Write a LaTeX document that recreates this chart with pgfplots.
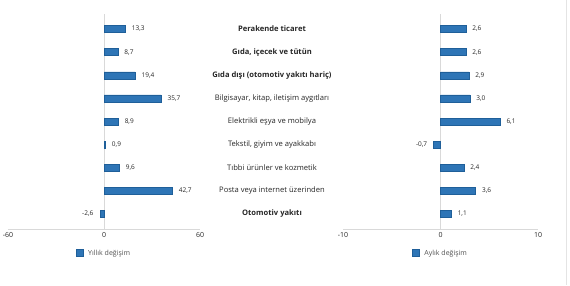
\documentclass[border=0pt]{standalone}
\usepackage{pgfplots}
\pgfplotsset{compat=1.18}
\usepackage{fontspec}
\setmainfont{Open Sans}
\definecolor{barblue}{HTML}{2E75B6}
\definecolor{baredge}{HTML}{1F5F99}
\definecolor{axgray}{HTML}{D9D9D9}
\definecolor{txt}{HTML}{262626}
\pgfplotsset{
  common/.style={
    scale only axis, anchor=south west,
    ymin=-0.65, ymax=8.65, y dir=reverse,
    axis lines*=left,
    y axis line style={draw=none},
    x axis line style={draw=axgray, line width=0.8pt},
    major tick length=0pt,
    xbar, bar width=7pt, bar shift=0pt,
    tick label style={font=\fontsize{7}{8}\selectfont, text=txt},
    xticklabel style={/pgf/number format/.cd, fixed, fixed zerofill=false, precision=0},
    /pgf/number format/.cd, use comma, fixed, fixed zerofill, precision=1, assume math mode=true,
    /pgfplots/.cd,
    nodes near coords,
    every node near coord/.append style={font=\fontsize{6.5}{7}\selectfont, text=txt},
    legend style={draw=none, fill=none, font=\fontsize{7}{8}\selectfont, text=txt!80, at={(0.5,0)}, anchor=north, yshift=-17pt, legend cell align=left},
    legend image code/.code={\fill[barblue, draw=baredge] (0pt,-3pt) rectangle (7pt,4pt);},
    clip=false,
  },
  pos/.style={fill=barblue, draw=baredge, every node near coord/.append style={anchor=west, xshift=3pt}},
  neg/.style={fill=barblue, draw=baredge, every node near coord/.append style={anchor=east, xshift=-3pt}},
}
\begin{document}
\begin{tikzpicture}[x=1pt,y=1pt]
\path[use as bounding box] (0,0) rectangle (570,285);
\draw[axgray!70, line width=0.6pt] (566,0) -- (566,285);
% Left axis
\begin{axis}[common, at={(8pt,56pt)}, width=192pt, height=215pt,
  xmin=-60, xmax=60, xtick={-60,0,60}, ytick=\empty]
\draw[axgray, line width=0.6pt] (axis cs:0,-0.65) -- (axis cs:0,8.65);
\addplot[pos] coordinates {(13.3,0) (8.7,1) (19.4,2) (35.7,3) (8.9,4) (0.9,5) (9.6,6) (42.7,7)};
\addlegendentry{\hspace{3pt}Yıllık değişim}
\addplot[neg, forget plot] coordinates {(-2.6,8)};
\end{axis}
% Right axis
\begin{axis}[common, at={(343pt,56pt)}, width=195pt, height=215pt,
  xmin=-10, xmax=10, xtick={-10,0,10},
  ytick={0,...,8},
  yticklabels={\textbf{Perakende ticaret},\textbf{Gıda, içecek ve tütün},\textbf{Gıda dışı (otomotiv yakıtı hariç)},Bilgisayar{,} kitap{,} iletişim aygıtları,Elektrikli eşya ve mobilya,Tekstil{,} giyim ve ayakkabı,Tıbbi ürünler ve kozmetik,Posta veya internet üzerinden,\textbf{Otomotiv yakıtı}},
  yticklabel style={anchor=center, xshift=-71pt, font=\fontsize{7.6}{9}\selectfont}]
\draw[axgray, line width=0.6pt] (axis cs:0,-0.65) -- (axis cs:0,8.65);
\addplot[pos] coordinates {(2.6,0) (2.6,1) (2.9,2) (3.0,3) (6.1,4)};
\addlegendentry{\hspace{3pt}Aylık değişim}
\addplot[neg, forget plot] coordinates {(-0.7,5)};
\addplot[pos, forget plot] coordinates {(2.4,6) (3.6,7) (1.1,8)};
\end{axis}
\end{tikzpicture}
\end{document}
